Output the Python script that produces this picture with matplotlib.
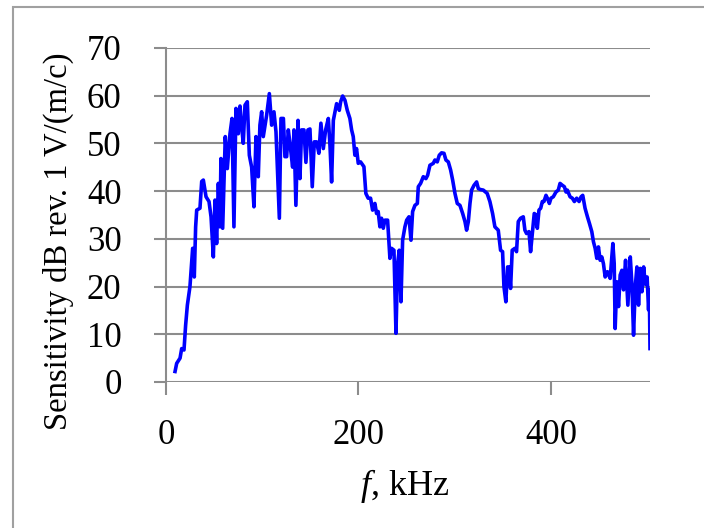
import matplotlib
matplotlib.use("Agg")
import matplotlib.pyplot as plt
from matplotlib.patches import Rectangle

# frequency (kHz) and sensitivity (dB rev. 1 V/(m/c))
freq_khz = [
    9.4, 11.1, 14.6, 16.3, 18.7, 20.4, 22.2, 24.9, 27.7, 29.4, 30.8, 31.9, 35.3, 37.1, 38.8,
    41.6, 44.7, 46.8, 49.2, 50.9, 52.6, 54.4, 56.1, 57.1, 58.9, 60.2, 61.6, 63.7, 66.5, 68.6,
    70.6, 72.7, 75.1, 76.9, 78.6, 80.3, 82.1, 84.5, 86.6, 89.0, 91.4, 93.5, 95.9, 97.6, 99.4,
    101.1, 104.6, 107.4, 109.8, 112.2, 114.3, 117.8, 119.5, 122.0, 123.6, 125.4, 127.1, 128.8,
    131.6, 133.0, 135.0, 137.2, 139.2, 140.9, 143.4, 145.4, 147.5, 149.6, 152.0, 154.1, 156.5,
    158.9, 161.0, 163.5, 165.9, 168.7, 170.4, 172.1, 173.9, 175.6, 177.3, 180.1, 181.5, 183.6,
    186.0, 188.4, 191.1, 192.9, 194.6, 196.3, 198.0, 199.8, 202.2, 205.7, 207.7, 210.1, 212.6,
    214.7, 217.1, 218.8, 220.5, 222.3, 224.0, 225.8, 227.5, 230.3, 232.7, 234.4, 236.9, 239.0,
    240.7, 242.4, 244.2, 245.9, 248.3, 250.1, 252.5, 254.6, 256.3, 258.7, 261.2, 262.2, 264.6,
    267.4, 270.1, 271.9, 274.3, 277.8, 279.5, 281.9, 284.0, 286.4, 288.9, 290.9, 293.4, 295.8,
    297.9, 300.3, 302.7, 305.5, 308.3, 310.7, 312.4, 314.2, 315.9, 317.6, 320.1, 322.8, 324.6,
    327.0, 329.7, 333.8, 336.6, 339.4, 341.8, 345.3, 347.7, 349.8, 351.2, 353.2, 355.0, 356.7,
    358.1, 359.8, 362.6, 364.3, 366.1, 368.5, 371.3, 373.0, 374.7, 377.2, 378.9, 381.0, 382.7,
    384.5, 385.9, 387.6, 389.4, 391.1, 392.8, 394.9, 396.6, 398.4, 400.1, 402.5, 405.3, 407.7,
    409.5, 411.9, 414.0, 415.7, 417.1, 419.9, 422.3, 424.4, 426.8, 429.3, 431.4, 433.1, 435.5,
    438.0, 440.1, 442.5, 444.2, 446.0, 447.7, 449.4, 451.2, 452.9, 454.6, 456.4, 458.8, 461.6,
    464.4, 465.8, 466.8, 468.5, 470.3, 472.0, 473.8, 475.5, 477.6, 480.0, 482.5, 484.2, 485.9,
    487.7, 489.4, 491.1, 492.9, 494.6, 496.4, 498.1, 500.0, 501.5, 502.3, 503.0,
]
sensitivity_db = [
    2.2, 3.9, 5.0, 7.0, 6.7, 11.9, 16.1, 20.0, 28.0, 22.0, 32.5, 36.0, 36.4, 42.0, 42.3,
    38.8, 37.8, 34.6, 26.2, 38.1, 29.0, 41.6, 32.5, 46.8, 32.2, 41.6, 51.4, 44.7, 52.0, 55.2,
    32.5, 57.3, 52.0, 57.8, 53.5, 50.0, 58.0, 58.7, 47.5, 45.0, 36.7, 51.4, 43.0, 53.8, 56.6,
    51.4, 55.9, 60.4, 53.8, 56.6, 52.4, 34.3, 55.2, 55.2, 47.2, 47.2, 52.8, 50.0,
    45.0, 52.8, 37.0, 54.8, 42.6, 52.8, 52.8, 46.0, 52.8, 53.0, 40.9, 50.3, 50.3,
    47.9, 54.2, 48.9, 52.8, 55.2, 49.6, 41.9, 54.8, 56.6, 58.3, 56.9, 58.7, 59.9,
    59.0, 56.9, 55.2, 52.8, 51.4, 47.5, 48.9, 45.8, 46.1, 45.1, 39.5, 38.5, 38.5,
    36.0, 37.4, 35.3, 35.7, 32.5, 34.3, 32.2, 33.9, 33.9, 25.9, 28.0, 27.6, 10.2,
    24.8, 27.6, 16.8, 29.7, 32.5, 33.9, 34.6, 29.7, 35.7, 37.0, 37.4, 40.9, 41.6,
    43.0, 42.6, 43.3, 45.4, 45.8, 46.5, 46.1, 47.5, 48.0, 47.9, 46.5, 46.1, 44.4,
    42.3, 39.5, 37.4, 37.0, 35.3, 33.6, 31.8, 33.6, 37.4, 40.2, 41.2, 41.9, 40.5,
    40.3, 40.2, 39.5, 37.8, 35.3, 32.5, 31.8, 27.6, 27.3, 20.0, 16.8, 24.1, 24.1,
    19.6, 27.6, 28.0, 27.3, 33.6, 34.3, 34.6, 31.8, 31.1, 31.5, 27.3, 31.8, 35.3,
    35.0, 32.2, 36.0, 36.4, 37.8, 37.8, 39.1, 38.4, 37.4, 38.5, 38.8, 39.8, 40.2,
    41.6, 41.2, 40.9, 39.8, 40.2, 38.8, 38.5, 37.8, 38.5, 37.8, 38.8, 39.1, 36.4,
    34.6, 33.2, 31.5, 29.4, 28.0, 25.9, 28.3, 25.5, 26.2, 24.8, 22.0, 23.1, 21.7,
    29.0, 24.8, 11.2, 21.0, 15.8, 22.4, 23.4, 19.3, 25.5, 16.1, 26.2, 20.5, 9.8,
    20.0, 24.1, 16.1, 23.8, 18.9, 24.1, 20.5, 22.0, 15.1, 19.3, 7.0,
]

x_ticks = [0, 200, 400]
y_ticks = [0, 10, 20, 30, 40, 50, 60, 70]

GRID = "#8c8c8c"
W, H = 704, 528

plt.rcParams["font.family"] = ["Liberation Serif", "DejaVu Serif"]

fig = plt.figure(figsize=(W / 100, H / 100), dpi=100)
ax = fig.add_axes([166 / W, 1 - 382 / H, (650 - 166) / W, (382 - 47.8) / H])

ax.plot(freq_khz, sensitivity_db, color="#0000ff", lw=2.6, zorder=3)

ax.set_xlim(0, 503)
ax.set_ylim(0, 70)
ax.set_xticks(x_ticks)
ax.set_yticks(y_ticks)
ax.yaxis.grid(True, color=GRID, lw=1.5)
ax.set_axisbelow(True)

for side in ("top", "right", "bottom"):
    ax.spines[side].set_visible(False)
ax.spines["left"].set_color(GRID)
ax.spines["left"].set_linewidth(1.5)

ax.tick_params(axis="both", colors=GRID, width=1.5, length=9, labelsize=25,
               labelcolor="black")
ax.tick_params(axis="x", pad=18)
ax.tick_params(axis="y", pad=23)

# x label: italic f, upright unit
fig.text(371 / W, 1 - 486 / H, "f", style="italic", fontsize=26, ha="right", va="center")
fig.text(371 / W, 1 - 486 / H, ", kHz", fontsize=26, ha="left", va="center")

fig.text(58 / W, 1 - 241.6 / H, "Sensitivity dB rev. 1 V/(m/c)", rotation=90,
         fontsize=23.5, ha="center", va="center")

# outer chart border (runs off the right and bottom edges)
fig.patches.append(Rectangle((12.7 / W, -0.1), 1.1, 1.1 - 6.7 / H, transform=fig.transFigure,
                             fill=False, edgecolor="#a0a0a0", lw=1.5))

fig.savefig("out.png", dpi=100)
